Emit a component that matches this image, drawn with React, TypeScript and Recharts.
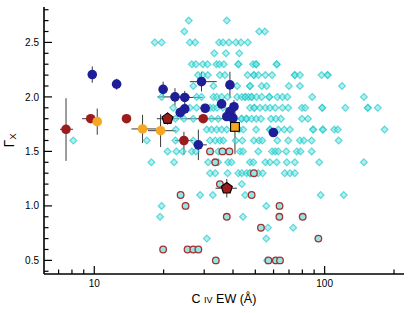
import React from 'react';
import { ScatterChart, Scatter, XAxis, YAxis, ErrorBar } from 'recharts';

// ---- axis ticks ----
const xTicks = [7, 8, 9, 10, 20, 30, 40, 50, 60, 70, 80, 90, 100, 200];
const xLabels = [10, 100];
const yTicks = [0.4, 0.5, 0.6, 0.7, 0.8, 0.9, 1.0, 1.1, 1.2, 1.3, 1.4, 1.5, 1.6, 1.7, 1.8, 1.9, 2.0, 2.1, 2.2, 2.3, 2.4, 2.5, 2.6, 2.7, 2.8];
const yLabels = [0.5, 1.0, 1.5, 2.0, 2.5];

// ---- comparison sample (cyan diamonds), grouped by Gamma row ----
const cyanRows = [
  { g: 2.7, ew: [25.7, 37.6] },
  { g: 2.6, ew: [24.6, 52.0, 55.0] },
  { g: 2.5, ew: [18.3, 19.6, 26.0, 27.4, 34.8, 36.2, 38.4, 41.2, 43.3, 46.4] },
  { g: 2.4, ew: [33.2, 37.3, 42.6] },
  { g: 2.3, ew: [26.5, 27.6, 29.6, 31.0, 33.9, 34.9, 36.5, 42.2, 42.2, 48.9, 50.4, 50.4, 61.9, 61.9] },
  { g: 2.2, ew: [28.2, 29.6, 31.1, 35.1, 36.9, 46.3, 49.3, 49.3, 51.6, 55.3, 59.1, 74.2, 74.2, 78.1, 97.0, 103, 103] },
  { g: 2.1, ew: [26.9, 32.9, 41.7, 47.4, 47.4, 53.3, 56.0, 69.9, 78.1, 119] },
  { g: 2.0, ew: [19.6, 27.8, 29.2, 32.9, 34.0, 35.7, 37.9, 41.7, 43.7, 45.2, 45.2, 46.7, 48.2, 48.2, 50.6, 53.3, 57.5, 57.5, 62.3, 65.6, 68.9, 88.3, 148] },
  { g: 1.9, ew: [22.0, 26.0, 27.8, 31.8, 32.9, 34.1, 36.2, 47.4, 49.5, 49.5, 52.4, 55.3, 57.9, 61.0, 65.6, 69.5, 79.7, 82.3, 97.6, 97.6, 123, 154, 154, 170] },
  { g: 1.8, ew: [22.5, 24.5, 26.9, 32.3, 34.5, 43.6, 43.6, 45.8, 45.8, 48.2, 50.5, 52.9, 58.5, 61.4, 64.6, 79.7, 84.6] },
  { g: 1.7, ew: [22.6, 30.8, 32.3, 34.0, 35.7, 37.6, 42.5, 44.3, 50.4, 57.9, 57.9, 62.9, 66.8, 70.7, 89.1, 89.1, 98.2, 98.2, 110, 114, 182] },
  { g: 1.6, ew: [8.11, 16.9, 22.5, 26.9, 31.8, 33.5, 35.1, 36.3, 41.1, 43.9, 49.3, 51.9, 53.6, 62.3, 69.5, 78.1, 81.2, 87.8, 115] },
  { g: 1.5, ew: [20.8, 22.7, 24.2, 26.5, 27.6, 34.5, 42.9, 44.2, 51.5, 59.1, 61.0, 62.9, 68.1, 75.7, 78.5, 87.8] },
  { g: 1.4, ew: [17.7, 22.2, 31.2, 34.5, 38.1, 39.4, 47.4, 49.0, 55.3, 57.9, 61.9, 68.5, 74.2, 94.7, 148] },
  { g: 1.3, ew: [31.8, 33.5, 37.9, 42.2, 43.7, 45.8, 47.4, 47.4, 51.5, 53.8, 67.1, 70.7, 74.2] },
  { g: 1.2, ew: [43.7] },
  { g: 1.1, ew: [28.8, 32.7, 45.2, 96.1, 121] },
  { g: 1.0, ew: [19.6, 55.8] },
  { g: 0.9, ew: [19.3, 44.2] },
  { g: 0.8, ew: [56.7, 73.0] },
  { g: 0.7, ew: [30.8, 55.8] },
  { g: 0.5, ew: [56.2] },
];

// ---- red open rings ----
const ringRows = [
  { g: 1.5, ew: [31.8, 36.0, 38.6] },
  { g: 1.4, ew: [33.5] },
  { g: 1.3, ew: [49.3] },
  { g: 1.2, ew: [35.1] },
  { g: 1.1, ew: [23.7, 48.2] },
  { g: 1.0, ew: [24.9, 63.7] },
  { g: 0.9, ew: [37.6, 63.6, 80.3] },
  { g: 0.8, ew: [52.9] },
  { g: 0.7, ew: [93.9] },
  { g: 0.6, ew: [19.9, 25.4, 26.9, 28.3] },
  { g: 0.5, ew: [33.7, 57.0, 61.4, 64.0] },
];

// ---- navy filled circles ----
const navyEW = [9.8, 12.5, 19.9, 22.4, 24.7, 24.7, 23.6, 29.2, 30.3, 38.8, 35.7, 40.4, 38.8, 37.6, 40.0, 28.3, 59.9];
const navyG = [2.205, 2.117, 2.07, 2.0, 1.995, 1.89, 1.857, 2.14, 1.896, 2.11, 1.936, 1.91, 1.865, 1.82, 1.805, 1.56, 1.673];
const navyXErr = [[0, 0], [0, 0], [0, 0], [3.6, 3.6], [2.3, 4.9], [0, 0], [0, 0], [3.2, 4.8], [1.5, 1.5], [0, 0], [0, 0], [0, 0], [0, 0], [0, 0], [0, 0], [1.4, 2.5], [0, 0]];
const navyYErr = [0.075, 0.05, 0.07, 0.08, 0.06, 0.05, 0.05, 0.09, 0.04, 0.12, 0.04, 0.06, 0.05, 0.04, 0.05, 0.14, 0.04];

// ---- dark red filled circles ----
const redEW = [7.54, 9.65, 13.8, 29.7, 24.5];
const redG = [1.703, 1.8, 1.8, 1.8, 1.6];
const redXErr = [[0.44, 0.55], [0.8, 0.9], [0, 0], [6, 8], [2.1, 2.4]];
const redYErr = [[0.29, 0.285], [0, 0], [0, 0], [0, 0], [0.13, 0.08]];

// ---- orange filled circles ----
const orangeEW = [10.3, 16.2, 19.4];
const orangeG = [1.773, 1.706, 1.69];
const orangeXErr = [[0, 0], [1.7, 2.4], [2.3, 3.3]];
const orangeYErr = [0.12, 0.13, 0.15];

// ---- pentagons ----
const pentEW = [20.8, 37.6];
const pentG = [1.8, 1.162];
const pentXErr = [[2.1, 2.6], [4, 4]];
const pentYErr = [0.055, 0.085];

// ---- orange square ----
const squareEW = [40.8];
const squareG = [1.725];
const squareYErr = [[0.25, 0.18]];

const rowsToData = (rows: { g: number; ew: number[] }[]) =>
  rows.flatMap((r) => r.ew.map((e) => ({ ew: e, g: r.g })));

const cyanData = rowsToData(cyanRows);
const ringData = rowsToData(ringRows);
const navyData = navyEW.map((e, i) => ({ ew: e, g: navyG[i], ex: navyXErr[i], ey: navyYErr[i] }));
const redData = redEW.map((e, i) => ({ ew: e, g: redG[i], ex: redXErr[i], ey: redYErr[i] }));
const orangeData = orangeEW.map((e, i) => ({ ew: e, g: orangeG[i], ex: orangeXErr[i], ey: orangeYErr[i] }));
const pentData = pentEW.map((e, i) => ({ ew: e, g: pentG[i], ex: pentXErr[i], ey: pentYErr[i] }));
const squareData = squareEW.map((e, i) => ({ ew: e, g: squareG[i], ey: squareYErr[i] }));

const FONT = '"Liberation Sans", Arial, Helvetica, sans-serif';
const MAJOR = 8;
const MINOR = 4.5;

const XTickBottom = (p: any) => {
  const { x, y, payload } = p;
  const major = xLabels.includes(payload.value);
  return (
    <g>
      <line x1={x} x2={x} y1={y} y2={y - (major ? MAJOR : MINOR)} stroke="#000" strokeWidth={1.2} />
      {major && (
        <text x={x} y={y + 13} textAnchor="middle" fontSize={10} fontFamily={FONT} fill="#000">
          {payload.value}
        </text>
      )}
    </g>
  );
};
const XTickTop = (p: any) => {
  const { x, y, payload } = p;
  const major = xLabels.includes(payload.value);
  return <line x1={x} x2={x} y1={y} y2={y + (major ? MAJOR : MINOR)} stroke="#000" strokeWidth={1.2} />;
};
const YTickLeft = (p: any) => {
  const { x, y, payload } = p;
  const major = yLabels.some((v) => Math.abs(v - payload.value) < 1e-6);
  return (
    <g>
      <line x1={x} x2={x + (major ? MAJOR : MINOR)} y1={y} y2={y} stroke="#000" strokeWidth={1.2} />
      {major && (
        <text x={x - 5} y={y + 3.6} textAnchor="end" fontSize={10} fontFamily={FONT} fill="#000">
          {Number(payload.value).toFixed(1)}
        </text>
      )}
    </g>
  );
};
const YTickRight = (p: any) => {
  const { x, y, payload } = p;
  const major = yLabels.some((v) => Math.abs(v - payload.value) < 1e-6);
  return <line x1={x} x2={x - (major ? MAJOR : MINOR)} y1={y} y2={y} stroke="#000" strokeWidth={1.2} />;
};

const XTitle = (p: any) => {
  const vb = p.viewBox || { x: 44, y: 274, width: 360, height: 30 };
  return (
    <text x={vb.x + vb.width / 2} y={vb.y + 29} textAnchor="middle" fontSize={12.5} fontFamily={FONT} fill="#000">
      <tspan>C </tspan>
      <tspan fontSize={9}>IV</tspan>
      <tspan> EW (Å)</tspan>
    </text>
  );
};
const YTitle = (p: any) => {
  const vb = p.viewBox || { x: 4, y: 7, width: 40, height: 267 };
  const cx = 14;
  const cy = vb.y + vb.height / 2;
  return (
    <text x={cx} y={cy} transform={`rotate(-90, ${cx}, ${cy})`} textAnchor="middle" fontSize={14} fontFamily={FONT} fill="#000">
      <tspan>Γ</tspan>
      <tspan fontSize={9.5} dy={2}>X</tspan>
    </text>
  );
};

const Diamond = (p: any) => {
  const { cx, cy } = p;
  const s = 3.4;
  return (
    <polygon
      points={`${cx},${cy - s} ${cx + s},${cy} ${cx},${cy + s} ${cx - s},${cy}`}
      fill="#6fe3e3"
      fillOpacity={0.55}
      stroke="#1fc6c6"
      strokeOpacity={0.65}
      strokeWidth={1.2}
    />
  );
};
const Ring = (p: any) => (
  <circle cx={p.cx} cy={p.cy} r={3.3} fill="#8fe8e8" stroke="#a83030" strokeWidth={1.3} />
);
const Dot = (color: string) => (p: any) => <circle cx={p.cx} cy={p.cy} r={4.8} fill={color} />;
const Pentagon = (p: any) => {
  const { cx, cy } = p;
  const r = 5.8;
  const pts = [0, 1, 2, 3, 4]
    .map((k) => {
      const a = -Math.PI / 2 + (k * 2 * Math.PI) / 5;
      return `${cx + r * Math.cos(a)},${cy + r * Math.sin(a)}`;
    })
    .join(' ');
  return <polygon points={pts} fill="#9b1c1c" stroke="#000" strokeWidth={1.1} />;
};
const Square = (p: any) => {
  const s = 4.4;
  return <rect x={p.cx - s} y={p.cy - s} width={2 * s} height={2 * s} fill="#f5a623" stroke="#000" strokeWidth={1.1} />;
};

const EB = '#3a3a3a';

export default function App() {
  return (
    <div style={{ position: 'absolute', left: 0, top: 0, background: '#fff' }}>
      <ScatterChart width={411} height={313} margin={{ top: 7, right: 7, bottom: 9, left: 4 }}>
        <XAxis
          xAxisId="b"
          dataKey="ew"
          type="number"
          scale="log"
          domain={[6.05, 221]}
          allowDataOverflow
          ticks={xTicks}
          interval={0}
          tick={<XTickBottom />}
          tickLine={false}
          tickSize={0}
          tickMargin={0}
          height={30}
          axisLine={{ stroke: '#000', strokeWidth: 1.6 }}
          label={<XTitle />}
        />
        <XAxis
          xAxisId="t"
          orientation="top"
          type="number"
          scale="log"
          domain={[6.05, 221]}
          allowDataOverflow
          ticks={xTicks}
          interval={0}
          tick={<XTickTop />}
          tickLine={false}
          tickSize={0}
          tickMargin={0}
          height={0}
          axisLine={{ stroke: '#000', strokeWidth: 1 }}
        />
        <YAxis
          yAxisId="l"
          dataKey="g"
          type="number"
          domain={[0.375, 2.825]}
          allowDataOverflow
          ticks={yTicks}
          interval={0}
          tick={<YTickLeft />}
          tickLine={false}
          tickSize={0}
          tickMargin={0}
          width={40}
          axisLine={{ stroke: '#000', strokeWidth: 1.6 }}
          label={<YTitle />}
        />
        <YAxis
          yAxisId="r"
          orientation="right"
          type="number"
          domain={[0.375, 2.825]}
          allowDataOverflow
          ticks={yTicks}
          interval={0}
          tick={<YTickRight />}
          tickLine={false}
          tickSize={0}
          tickMargin={0}
          width={0}
          axisLine={{ stroke: '#000', strokeWidth: 1 }}
        />
        <Scatter xAxisId="b" yAxisId="l" data={cyanData} shape={Diamond} isAnimationActive={false} />
        <Scatter xAxisId="b" yAxisId="l" data={ringData} shape={Ring} isAnimationActive={false} />
        <Scatter xAxisId="b" yAxisId="l" data={navyData} shape={Dot('#1e1e98')} isAnimationActive={false}>
          <ErrorBar dataKey="ex" direction="x" width={0} stroke={EB} strokeWidth={1} />
          <ErrorBar dataKey="ey" direction="y" width={0} stroke={EB} strokeWidth={1} />
        </Scatter>
        <Scatter xAxisId="b" yAxisId="l" data={redData} shape={Dot('#9b1c1c')} isAnimationActive={false}>
          <ErrorBar dataKey="ex" direction="x" width={0} stroke={EB} strokeWidth={1} />
          <ErrorBar dataKey="ey" direction="y" width={0} stroke={EB} strokeWidth={1} />
        </Scatter>
        <Scatter xAxisId="b" yAxisId="l" data={orangeData} shape={Dot('#f5a623')} isAnimationActive={false}>
          <ErrorBar dataKey="ex" direction="x" width={0} stroke={EB} strokeWidth={1} />
          <ErrorBar dataKey="ey" direction="y" width={0} stroke={EB} strokeWidth={1} />
        </Scatter>
        <Scatter xAxisId="b" yAxisId="l" data={pentData} shape={Pentagon} isAnimationActive={false}>
          <ErrorBar dataKey="ex" direction="x" width={0} stroke={EB} strokeWidth={1} />
          <ErrorBar dataKey="ey" direction="y" width={0} stroke={EB} strokeWidth={1} />
        </Scatter>
        <Scatter xAxisId="b" yAxisId="l" data={squareData} shape={Square} isAnimationActive={false}>
          <ErrorBar dataKey="ey" direction="y" width={0} stroke={EB} strokeWidth={1} />
        </Scatter>
      </ScatterChart>
    </div>
  );
}
